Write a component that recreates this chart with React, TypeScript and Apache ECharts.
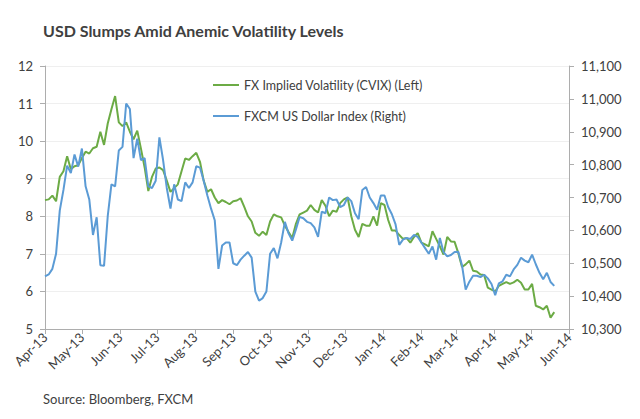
import React, { useEffect, useRef } from "react";
import * as echarts from "echarts";

// Axis range (daily category axis) and month ticks
const startDate = "2013-04-01";
const endDate = "2014-06-01";
const sampleStepDays = 3; // one reading every third calendar day
const monthTicks = [
  "2013-04-01", "2013-05-01", "2013-06-01", "2013-07-01", "2013-08-01",
  "2013-09-01", "2013-10-01", "2013-11-01", "2013-12-01", "2014-01-01",
  "2014-02-01", "2014-03-01", "2014-04-01", "2014-05-01", "2014-06-01",
];
const tickLabels = [
  "Apr-13", "May-13", "Jun-13", "Jul-13", "Aug-13", "Sep-13", "Oct-13",
  "Nov-13", "Dec-13", "Jan-14", "Feb-14", "Mar-14", "Apr-14", "May-14", "Jun-14",
];

// FX Implied Volatility (CVIX), left axis
const cvix = [
  8.43, 8.45, 8.55, 8.4, 9.05, 9.2, 9.6, 9.25, 9.33, 9.36,
  9.55, 9.72, 9.67, 9.81, 9.85, 10.25, 9.9, 10.47, 10.85, 11.2,
  10.5, 10.4, 10.5, 10.25, 10.05, 10.28, 9.8, 9.3, 8.67, 9.05,
  9.27, 9.3, 9.23, 8.95, 8.65, 8.75, 8.85, 9.2, 9.54, 9.5,
  9.6, 9.69, 9.45, 8.95, 8.65, 8.72, 8.5, 8.35, 8.43, 8.38,
  8.32, 8.4, 8.42, 8.48, 8.25, 8.0, 7.86, 7.56, 7.48, 7.59,
  7.5, 7.86, 8.05, 8.0, 7.97, 7.75, 7.58, 7.42, 7.8, 8.05,
  8.1, 8.15, 8.3, 8.17, 8.1, 8.43, 8.28, 8.0, 8.15, 8.12,
  8.35, 8.45, 8.5, 8.0, 7.64, 7.45, 7.8, 7.75, 7.75, 8.0,
  7.75, 8.35, 8.3, 7.9, 7.62, 7.62, 7.5, 7.4, 7.42, 7.3,
  7.45, 7.55, 7.3, 7.25, 7.2, 7.6, 7.4, 7.2, 6.98, 7.45,
  7.33, 7.32, 7.02, 6.65, 6.72, 6.82, 6.55, 6.53, 6.45, 6.44,
  6.1, 6.05, 6.0, 6.15, 6.2, 6.25, 6.2, 6.24, 6.31, 6.23,
  6.05, 6.05, 6.2, 5.62, 5.58, 5.52, 5.62, 5.3, 5.45,
];

// FXCM US Dollar Index, right axis
const usdIndex = [
  10460, 10466, 10483, 10529, 10660, 10723, 10797, 10774, 10831, 10794,
  10849, 10734, 10694, 10586, 10640, 10494, 10492, 10643, 10740, 10734,
  10843, 10854, 10986, 10969, 10820, 10879, 10814, 10820, 10734, 10729,
  10751, 10883, 10814, 10729, 10666, 10740, 10694, 10689, 10746, 10729,
  10746, 10795, 10791, 10751, 10706, 10666, 10631, 10483, 10554, 10563,
  10563, 10500, 10494, 10511, 10523, 10534, 10517, 10414, 10386, 10394,
  10414, 10529, 10546, 10515, 10563, 10626, 10591, 10569, 10603, 10641,
  10637, 10626, 10622, 10609, 10580, 10657, 10652, 10700, 10692, 10694,
  10671, 10677, 10700, 10689, 10652, 10634, 10723, 10732, 10700, 10683,
  10663, 10706, 10706, 10671, 10649, 10618, 10556, 10572, 10577, 10574,
  10586, 10580, 10563, 10546, 10529, 10551, 10511, 10577, 10534, 10521,
  10525, 10534, 10535, 10494, 10420, 10444, 10462, 10462, 10458, 10465,
  10454, 10437, 10403, 10439, 10445, 10465, 10460, 10481, 10495, 10517,
  10508, 10503, 10526, 10497, 10471, 10451, 10471, 10443, 10431,
];

const seriesNames = [
  "FX Implied Volatility (CVIX) (Left)",
  "FXCM US Dollar Index (Right)",
];
const seriesColors = ["#6CAB45", "#5B9BD5"];

function buildDays(from: string, to: string): string[] {
  const out: string[] = [];
  const t0 = Date.parse(from + "T00:00:00Z");
  const t1 = Date.parse(to + "T00:00:00Z");
  for (let t = t0; t <= t1; t += 86400000) {
    out.push(new Date(t).toISOString().slice(0, 10));
  }
  return out;
}

export default function App() {
  const ref = useRef<HTMLDivElement>(null);

  useEffect(() => {
    if (!ref.current) return;
    const chart = echarts.init(ref.current, undefined, { renderer: "svg" });
    const days = buildDays(startDate, endDate);
    const isTick = (_i: number, v: string) => monthTicks.indexOf(v) >= 0;
    const font = "Lato";
    const text = "#404040";
    const axisGrey = "#ADADAD";

    const option: any = {
      animation: false,
      backgroundColor: "#ffffff",
      title: {
        text: "USD Slumps Amid Anemic Volatility Levels",
        left: 43,
        top: 22,
        padding: 0,
        textStyle: { fontFamily: font, fontSize: 16, fontWeight: "bold", color: text },
      },
      legend: {
        orient: "vertical",
        left: 213,
        top: 77,
        padding: 0,
        itemWidth: 26,
        itemHeight: 2,
        itemGap: 15,
        icon: "rect",
        textStyle: { fontFamily: font, fontSize: 12.5, color: text, lineHeight: 16 },
        data: seriesNames,
      },
      grid: { left: 45, right: 71, top: 66, bottom: 90, outerBoundsMode: "none" },
      xAxis: {
        type: "category",
        data: days,
        boundaryGap: false,
        axisLine: { show: true, lineStyle: { color: axisGrey } },
        axisTick: { show: true, interval: isTick, length: 5, lineStyle: { color: axisGrey } },
        axisLabel: {
          interval: isTick,
          rotate: 45,
          margin: 6,
          fontFamily: font,
          fontSize: 13,
          color: text,
          formatter: (v: string) => tickLabels[monthTicks.indexOf(v)] || "",
        },
        splitLine: { show: false },
      },
      yAxis: [
        {
          type: "value",
          position: "left",
          min: 5,
          max: 12,
          interval: 1,
          axisLine: { show: true, lineStyle: { color: axisGrey } },
          axisTick: { show: true, length: 5, lineStyle: { color: axisGrey } },
          axisLabel: { margin: 12, fontFamily: font, fontSize: 13, color: text },
          splitLine: { show: true, lineStyle: { color: "#EFEFEF", width: 1 } },
        },
        {
          type: "value",
          position: "right",
          min: 10300,
          max: 11100,
          interval: 100,
          axisLine: { show: true, lineStyle: { color: axisGrey } },
          axisTick: { show: true, length: 5, lineStyle: { color: axisGrey } },
          axisLabel: {
            margin: 12,
            fontFamily: font,
            fontSize: 13,
            color: text,
            formatter: (v: number) => v.toLocaleString("en-US"),
          },
          splitLine: { show: false },
        },
      ],
      series: [
        {
          name: seriesNames[0],
          type: "line",
          yAxisIndex: 0,
          showSymbol: false,
          symbol: "none",
          color: seriesColors[0],
          lineStyle: { width: 2, color: seriesColors[0] },
          data: cvix.map((v, i) => [days[i * sampleStepDays], v]),
        },
        {
          name: seriesNames[1],
          type: "line",
          yAxisIndex: 1,
          showSymbol: false,
          symbol: "none",
          color: seriesColors[1],
          lineStyle: { width: 2, color: seriesColors[1] },
          data: usdIndex.map((v, i) => [days[i * sampleStepDays], v]),
        },
      ],
      graphic: [
        {
          type: "text",
          left: 43,
          top: 392,
          style: { text: "Source: Bloomberg, FXCM", fontFamily: font, fontSize: 13, fill: text },
        },
      ],
    };
    chart.setOption(option);
    return () => chart.dispose();
  }, []);

  return (
    <div
      ref={ref}
      style={{ position: "fixed", left: 0, top: 0, width: 640, height: 419, background: "#fff" }}
    />
  );
}
